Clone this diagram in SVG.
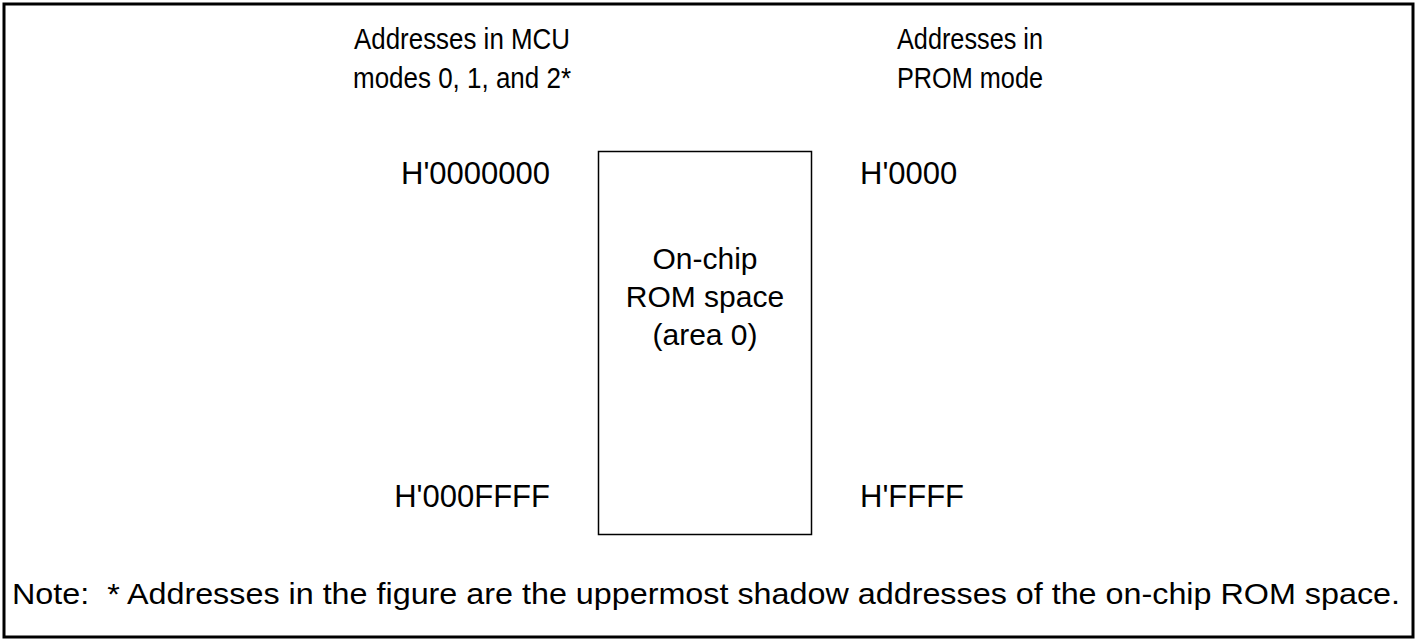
<svg xmlns="http://www.w3.org/2000/svg" width="1417" height="641" viewBox="0 0 1417 641">
<style>
text{font-family:"Liberation Sans",Arial,sans-serif;fill:#000;font-size:30px}
.addr{font-size:31px}
.mid{text-anchor:middle}
.end{text-anchor:end}
</style>
<rect x="0" y="0" width="1417" height="641" fill="#fff"/>
<rect id="frame" x="4" y="4" width="1409" height="633" fill="none" stroke="#000" stroke-width="3"/>
<g id="hdr-mcu">
<text class="mid" x="462" y="49" textLength="216" lengthAdjust="spacingAndGlyphs">Addresses in MCU</text>
<text class="mid" x="462" y="88" textLength="218" lengthAdjust="spacingAndGlyphs">modes 0, 1, and 2*</text>
</g>
<g id="hdr-prom">
<text class="mid" x="970" y="49" textLength="146" lengthAdjust="spacingAndGlyphs">Addresses in</text>
<text class="mid" x="970" y="88" textLength="146" lengthAdjust="spacingAndGlyphs">PROM mode</text>
</g>
<g id="rom">
<rect x="598.5" y="151.5" width="213" height="383" fill="none" stroke="#000" stroke-width="1.5"/>
<text class="mid" x="705" y="269">On-chip</text>
<text class="mid" x="705" y="307">ROM space</text>
<text class="mid" x="705" y="345">(area 0)</text>
</g>
<g id="addr-left">
<text class="addr end" x="550" y="184">H'0000000</text>
<text class="addr end" x="550" y="507">H'000FFFF</text>
</g>
<g id="addr-right">
<text class="addr" x="860" y="184">H'0000</text>
<text class="addr" x="860" y="507">H'FFFF</text>
</g>
<g id="connectors"></g>
<g id="note">
<text x="12" y="604" textLength="1388" lengthAdjust="spacingAndGlyphs">Note:&#160; * Addresses in the figure are the uppermost shadow addresses of the on-chip ROM space.</text>
</g>
</svg>
